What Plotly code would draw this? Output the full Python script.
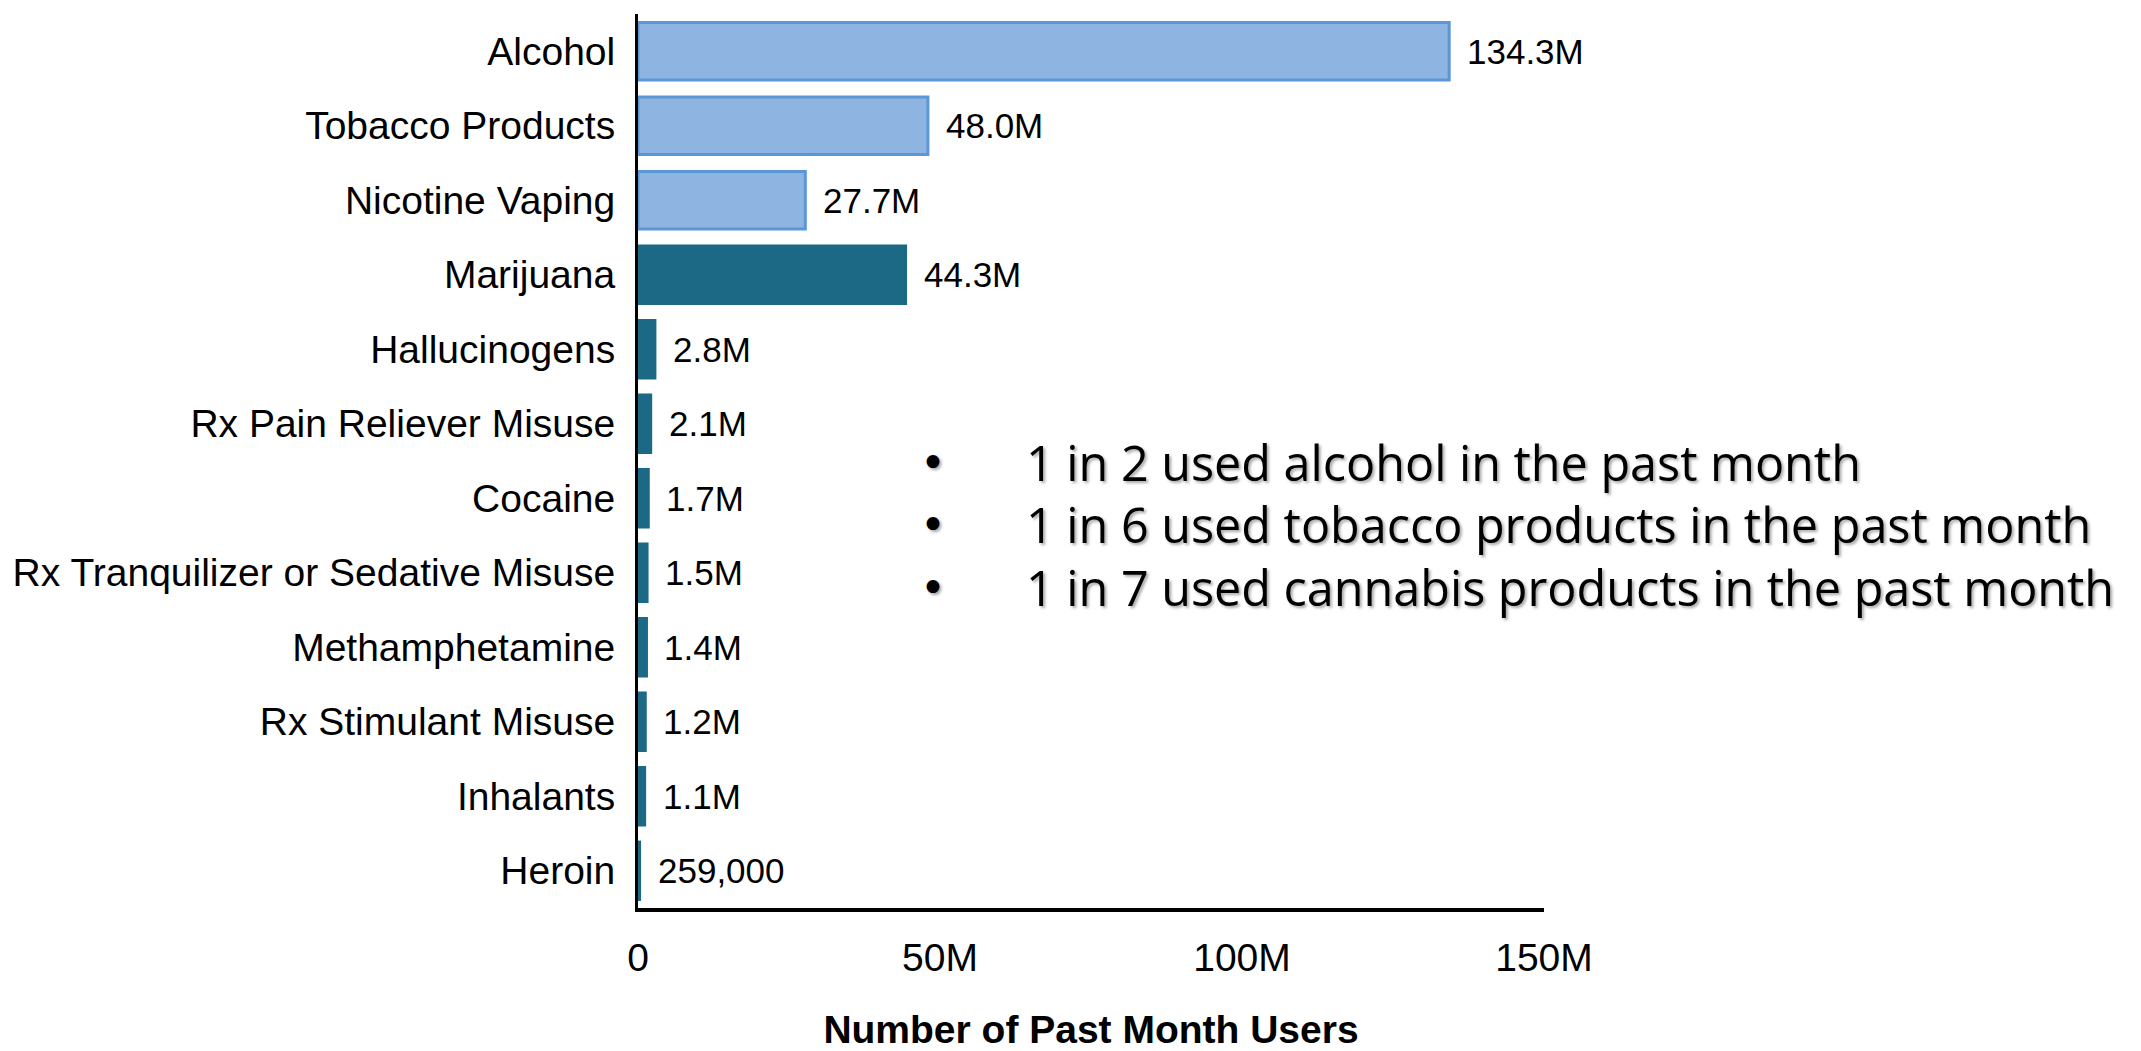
import plotly.graph_objects as go

# ---------------- data ----------------
substances = [
    "Alcohol", "Tobacco Products", "Nicotine Vaping", "Marijuana",
    "Hallucinogens", "Rx Pain Reliever Misuse", "Cocaine",
    "Rx Tranquilizer or Sedative Misuse", "Methamphetamine",
    "Rx Stimulant Misuse", "Inhalants", "Heroin",
]
users = [134.3e6, 48.0e6, 27.7e6, 44.3e6, 2.8e6, 2.1e6, 1.7e6,
         1.5e6, 1.4e6, 1.2e6, 1.1e6, 259000]
value_labels = ["134.3M", "48.0M", "27.7M", "44.3M", "2.8M", "2.1M", "1.7M",
                "1.5M", "1.4M", "1.2M", "1.1M", "259,000"]
groups = ["licit"] * 3 + ["other"] * 9

x_tickvals = [0, 50e6, 100e6, 150e6]
x_ticktext = ["0", "50M", "100M", "150M"]

bullets = [
    "1 in 2 used alcohol in the past month",
    "1 in 6 used tobacco products in the past month",
    "1 in 7 used cannabis products in the past month",
]
x_title = "Number of Past Month Users"

# ---------------- styles ----------------
FILL = {"licit": "#8EB4E1", "other": "#1C6986"}
EDGE = {"licit": "#5B97D6", "other": "#1C6986"}
SANS = "Liberation Sans, Arial, Helvetica, sans-serif"
BULLET_FONT = "Open Sans, Noto Sans, sans-serif"

W, H = 2141, 1051
# plot area in page pixels
L, R, T, B = 638, 1544, 14, 908

fig = go.Figure()
fig.add_trace(go.Bar(
    x=users, y=substances, orientation="h",
    marker=dict(color=[FILL[g] for g in groups],
                line=dict(color=[EDGE[g] for g in groups], width=3)),
    width=0.77, hoverinfo="x+y", showlegend=False,
))

annotations = []
for s, v, lab in zip(substances, users, value_labels):
    annotations.append(dict(
        x=v, y=s, xref="x", yref="y", text=lab, showarrow=False,
        xanchor="left", yanchor="middle", xshift=16,
        font=dict(family=SANS, size=35, color="#000000"),
    ))

pw, ph = R - L, B - T
bullet_x = (933 - L) / pw
text_x = (1024 - L) / pw
line_ys = [462, 524, 587]
shadow = "2px 2px 3px rgba(0,0,0,0.35)"
for txt, py in zip(bullets, line_ys):
    yp = (B - py) / ph
    annotations.append(dict(
        x=bullet_x, y=yp, xref="paper", yref="paper", text="•", showarrow=False,
        xanchor="center", yanchor="middle",
        font=dict(family="DejaVu Sans, sans-serif", size=44, color="#000000",
                  shadow=shadow),
    ))
    annotations.append(dict(
        x=text_x, y=yp, xref="paper", yref="paper", text=txt, showarrow=False,
        xanchor="left", yanchor="middle",
        font=dict(family=BULLET_FONT, size=48.5, color="#000000", shadow=shadow),
    ))

fig.update_layout(
    width=W, height=H,
    margin=dict(l=L, r=W - R, t=T, b=H - B, pad=0, autoexpand=False),
    paper_bgcolor="#FFFFFF", plot_bgcolor="#FFFFFF",
    annotations=annotations,
    xaxis=dict(
        range=[0, 150e6], tickvals=x_tickvals, ticktext=x_ticktext,
        showgrid=False, zeroline=False, showline=True, linecolor="#000000",
        linewidth=4, ticks="", ticklabelstandoff=12, automargin=False,
        tickfont=dict(family=SANS, size=39, color="#000000"),
        title=dict(text="<b>" + x_title + "</b>", standoff=80,
                   font=dict(family=SANS, size=39, color="#000000")),
        fixedrange=True,
    ),
    yaxis=dict(
        type="category", categoryorder="array", categoryarray=substances,
        range=[11.5, -0.5], showgrid=False, zeroline=False, showline=True,
        linecolor="#000000", linewidth=3, ticks="", ticklabelstandoff=12,
        automargin=False,
        tickfont=dict(family=SANS, size=39, color="#000000"),
        fixedrange=True,
    ),
)

fig.write_html(
    "out.html",
    config={"displayModeBar": False},
    post_script="document.body.style.margin='0px';"
                "document.body.style.overflow='hidden';",
)
